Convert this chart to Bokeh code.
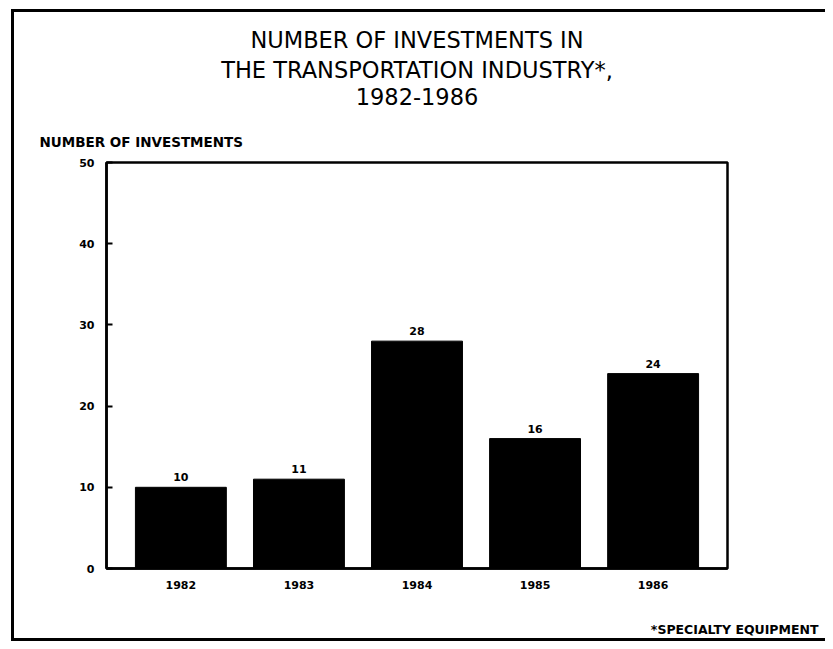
from bokeh.plotting import figure
from bokeh.models import ColumnDataSource, LabelSet, Title, FixedTicker, FactorRange
from bokeh.core.properties import value
from bokeh.embed import file_html
from bokeh.resources import INLINE

years = ["1982", "1983", "1984", "1985", "1986"]
investments = [10, 11, 28, 16, 24]
value_labels = ["10", "11", "28", "16", "24"]
y_ticks = [0, 10, 20, 30, 40, 50]
title_lines = ["NUMBER OF INVESTMENTS IN", "THE TRANSPORTATION INDUSTRY*,", "1982-1986"]
y_label_text = "NUMBER OF INVESTMENTS"
footnote_text = "*SPECIALTY EQUIPMENT"

source = ColumnDataSource(data=dict(years=years, investments=investments, labels=value_labels))

FONT = "DejaVu Sans"

p = figure(x_range=FactorRange(factors=years, range_padding=0.13, range_padding_units="absolute"),
           y_range=(0, 50), width=825, height=641,
           output_backend="svg", toolbar_location=None,
           min_border_left=106, min_border_right=98, min_border_bottom=73, min_border_top=162)

# outer page border drawn behind a transparent border area
p.border_fill_alpha = 0
p.background_fill_color = "white"
p.styles = {
    "background-color": "white",
    "background-image": "linear-gradient(#000,#000), linear-gradient(#000,#000), linear-gradient(#000,#000)",
    "background-size": "3px 632px, 820px 3px, 820px 3px",
    "background-position": "11px 9px, 11px 9px, 11px 638px",
    "background-repeat": "no-repeat",
}

p.vbar(x="years", top="investments", width=0.77, source=source,
       fill_color="black", line_color="black")

labels = LabelSet(x="years", y="investments", text="labels", source=source,
                  y_offset=6, text_align="center", text_baseline="bottom",
                  text_font=value(FONT), text_font_size="11px", text_font_style="bold",
                  text_color="black")
p.add_layout(labels)

p.xgrid.grid_line_color = None
p.ygrid.grid_line_color = None
p.outline_line_color = "black"
p.outline_line_width = 2.5
p.outline_line_alpha = 1

p.yaxis.ticker = FixedTicker(ticks=y_ticks)
p.yaxis.major_tick_in = 6
p.yaxis.major_tick_out = 0
p.yaxis.minor_tick_line_color = None
p.yaxis.axis_line_width = 2.5
p.yaxis.major_tick_line_width = 2
p.yaxis.major_label_text_font = FONT
p.yaxis.major_label_text_font_style = "bold"
p.yaxis.major_label_text_font_size = "11px"
p.yaxis.major_label_text_color = "black"
p.yaxis.major_label_standoff = 12

p.xaxis.major_tick_line_color = None
p.xaxis.axis_line_width = 2.5
p.xaxis.major_label_text_font = FONT
p.xaxis.major_label_text_font_style = "bold"
p.xaxis.major_label_text_font_size = "11px"
p.xaxis.major_label_text_color = "black"
p.xaxis.major_label_standoff = 6

# stacked titles: first added sits closest to the frame
p.add_layout(Title(text=y_label_text, align="left", offset=-67,
                   text_font=FONT, text_font_size="13.5px", text_font_style="bold",
                   text_color="black", standoff=26), "above")
p.add_layout(Title(text=" ", align="center", text_font=FONT, text_font_size="1px",
                   standoff=8), "above")
for line_text, gap in zip(reversed(title_lines), [6, 0, 3]):
    p.add_layout(Title(text=line_text, align="center", text_font=FONT,
                       text_font_size="22.5px", text_font_style="normal",
                       text_color="black", standoff=gap), "above")

p.add_layout(Title(text=" ", align="center", text_font=FONT, text_font_size="1px",
                   standoff=21), "below")
p.add_layout(Title(text=footnote_text, align="right", offset=-91,
                   text_font=FONT, text_font_size="12.5px", text_font_style="bold",
                   text_color="black", standoff=8), "below")

open("out.html", "w").write(file_html(p, INLINE))
